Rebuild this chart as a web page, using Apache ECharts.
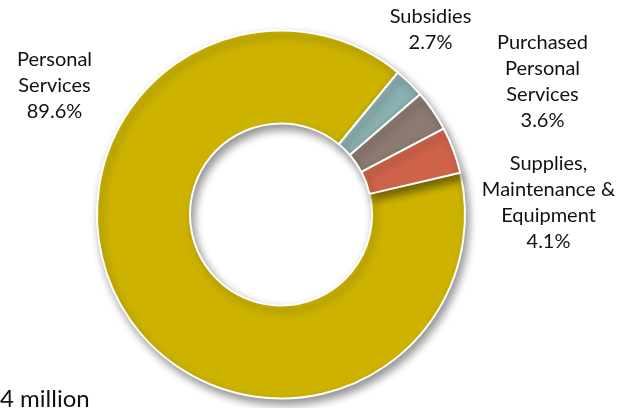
<!DOCTYPE html>
<html>
<head>
<meta charset="utf-8">
<script src="https://cdn.jsdelivr.net/npm/echarts@6/dist/echarts.min.js"></script>
<style>
html,body{margin:0;padding:0;background:#fff;}
#c{width:626px;height:408px;}
</style>
</head>
<body>
<div id="c"></div>
<script>
var categories = ['Personal\nServices', 'Subsidies', 'Purchased\nPersonal\nServices', 'Supplies,\nMaintenance &\nEquipment'];
var values = [89.6, 2.7, 3.6, 4.1];
var colors = ['#CDB300', '#8BB0B0', '#8C7B70', '#D0644B'];
var footnote = '4 million';

// label block anchors (centre x, centre y) in pixels
var labelPos = [[54.5, 86], [430.5, 30], [542.5, 82], [548.5, 202.5]];

var chart = echarts.init(document.getElementById('c'), null, {renderer: 'canvas'});
chart.setOption({
  animation: false,
  backgroundColor: '#fff',
  graphic: [{
    type: 'text', left: 0, top: 387,
    style: {text: footnote, font: '24px Lato', fill: '#111'}
  }],
  series: [{
    type: 'pie',
    center: [281, 214.5],
    radius: [91, 184],
    startAngle: 13.1,
    clockwise: true,
    percentPrecision: 1,
    avoidLabelOverlap: false,
    itemStyle: {
      borderColor: '#fff', borderWidth: 2,
      shadowBlur: 9, shadowColor: 'rgba(0,0,0,0.42)', shadowOffsetX: 3, shadowOffsetY: 5
    },
    label: {
      show: true, position: 'outside',
      formatter: '{b}\n{d}%',
      fontFamily: 'Lato', fontSize: 20, lineHeight: 26,
      color: '#111', align: 'center'
    },
    labelLine: {show: false},
    labelLayout: function (p) {
      var q = labelPos[p.dataIndex];
      return {x: q[0], y: q[1], align: 'center', verticalAlign: 'middle'};
    },
    emphasis: {disabled: true},
    data: categories.map(function (c, i) {
      return {name: c, value: values[i], itemStyle: {color: colors[i]}};
    })
  }]
});
</script>
</body>
</html>
